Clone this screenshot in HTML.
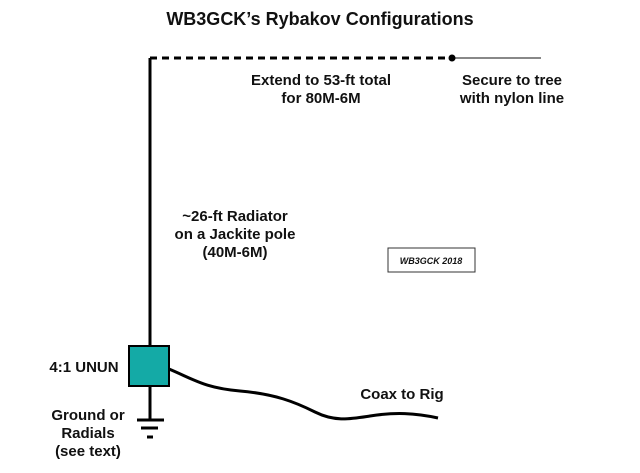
<!DOCTYPE html>
<html><head><style>
body{margin:0;width:640px;height:468px;background:#fff;overflow:hidden}
svg text{font-family:"Liberation Sans",sans-serif;font-weight:bold;fill:#111}
</style></head><body>
<svg width="640" height="468" viewBox="0 0 640 468">
<text x="320" y="25" font-size="18" text-anchor="middle">WB3GCK’s Rybakov Configurations</text>
<line x1="150" y1="58" x2="150" y2="346" stroke="#000" stroke-width="3"/>
<line x1="150" y1="58" x2="452" y2="58" stroke="#000" stroke-width="3" stroke-dasharray="7,5"/>
<line x1="452" y1="58" x2="541" y2="58" stroke="#888" stroke-width="2"/>
<circle cx="452" cy="58" r="3.5" fill="#000"/>
<text x="321" y="85" font-size="15" text-anchor="middle">Extend to 53-ft total</text>
<text x="321" y="103" font-size="15" text-anchor="middle">for 80M-6M</text>
<text x="512" y="85" font-size="15" text-anchor="middle">Secure to tree</text>
<text x="512" y="103" font-size="15" text-anchor="middle">with nylon line</text>
<text x="235" y="221" font-size="15" text-anchor="middle">~26-ft Radiator</text>
<text x="235" y="239" font-size="15" text-anchor="middle">on a Jackite pole</text>
<text x="235" y="257" font-size="15" text-anchor="middle">(40M-6M)</text>
<rect x="388" y="248" width="87" height="24" fill="#fff" stroke="#333" stroke-width="1"/>
<text x="431" y="264" font-size="9" font-style="italic" text-anchor="middle">WB3GCK 2018</text>
<line x1="150" y1="386" x2="150" y2="420" stroke="#000" stroke-width="3"/>
<rect x="129" y="346" width="40" height="40" fill="#14aaa6" stroke="#000" stroke-width="2"/>
<line x1="137" y1="420" x2="164" y2="420" stroke="#000" stroke-width="3"/>
<line x1="141" y1="428" x2="158" y2="428" stroke="#000" stroke-width="3"/>
<line x1="147" y1="437" x2="153" y2="437" stroke="#000" stroke-width="3"/>
<path d="M169 369 C195 380 205 388 240 391 C275 394 295 402 315 412 C335 422 350 419 370 416 C395 412 415 413 438 418" fill="none" stroke="#000" stroke-width="3"/>
<text x="84" y="372" font-size="15" text-anchor="middle">4:1 UNUN</text>
<text x="88" y="420" font-size="15" text-anchor="middle">Ground or</text>
<text x="88" y="438" font-size="15" text-anchor="middle">Radials</text>
<text x="88" y="456" font-size="15" text-anchor="middle">(see text)</text>
<text x="402" y="399" font-size="15" text-anchor="middle">Coax to Rig</text>
</svg>
</body></html>
